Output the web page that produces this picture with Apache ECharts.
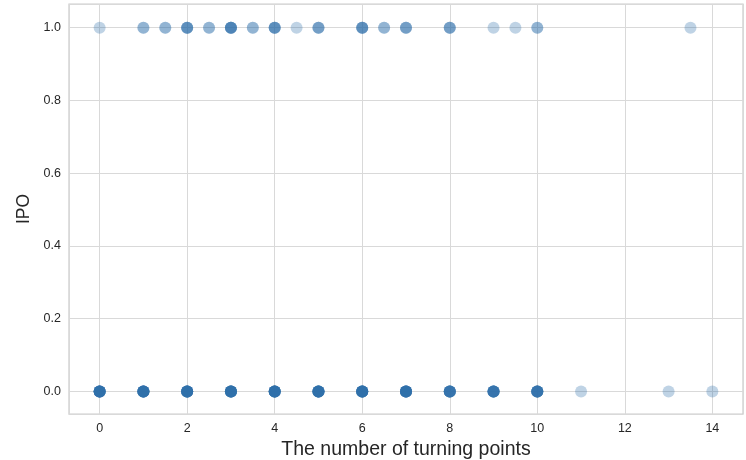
<!DOCTYPE html>
<html>
<head>
<meta charset="utf-8">
<script src="https://cdn.jsdelivr.net/npm/echarts@6/dist/echarts.min.js"></script>
<style>html,body{margin:0;padding:0;background:#fff}#c{width:746px;height:460px}</style>
</head>
<body>
<div id="c"></div>
<script>
// Observations: number of turning points for firms with IPO = 1
const ipo1Turns = [0, 1, 1, 1.5, 1.5, 2, 2, 2, 2, 2.5, 2.5, 3, 3, 3, 3, 3, 3.5, 3.5,
  4, 4, 4, 4, 4.5, 5, 5, 5, 6, 6, 6, 6, 6.5, 6.5, 7, 7, 7, 8, 8, 8, 9, 9.5, 10, 10, 13.5];
// Observations: number of turning points for firms with IPO = 0
const ipo0Turns = [0,0,0,0,0,0,0,0,0,0, 1,1,1,1,1,1,1,1,1,1, 2,2,2,2,2,2,2,2,2,2, 3,3,3,3,3,3,3,3,3,3,
  4,4,4,4,4,4,4,4,4,4, 5,5,5,5,5,5,5,5,5,5, 6,6,6,6,6,6,6,6,6,6, 7,7,7,7,7,7,7,7,7,7,
  8,8,8,8,8,8,8,8, 9,9,9,9,9,9,9,9, 10,10,10,10,10,10,10,10, 11, 13, 14];
const xTitle = 'The number of turning points';
const yTitle = 'IPO';

const points = ipo1Turns.map(x => [x, 1]).concat(ipo0Turns.map(x => [x, 0]));

const chart = echarts.init(document.getElementById('c'), null, {renderer: 'canvas'});
const txt = '#262626';
const font = 'Liberation Sans, Arial, sans-serif';
chart.setOption({
  animation: false,
  backgroundColor: '#fff',
  grid: {left: 69, right: 3, top: 4, bottom: 46, show: true, borderColor: '#cccccc', borderWidth: 1.25,
    backgroundColor: 'transparent', outerBoundsMode: 'none', containLabel: false},
  xAxis: {
    type: 'value', min: -0.7, max: 14.7, splitNumber: 7,
    name: xTitle, nameLocation: 'middle', nameGap: 25,
    nameTextStyle: {color: txt, fontSize: 19.5, fontFamily: font},
    axisLine: {show: false}, axisTick: {show: false},
    axisLabel: {color: txt, fontSize: 12.5, fontFamily: font, margin: 8, showMinLabel: false, showMaxLabel: false,
      formatter: v => String(Math.round(v))},
    splitLine: {show: true, lineStyle: {color: '#d9d9d9', width: 1}}
  },
  yAxis: {
    type: 'value', min: -0.062, max: 1.065, splitNumber: 5,
    name: yTitle, nameLocation: 'middle', nameGap: 35, nameRotate: 90,
    nameTextStyle: {color: txt, fontSize: 17.5, fontFamily: font},
    axisLine: {show: false}, axisTick: {show: false},
    axisLabel: {color: txt, fontSize: 12.5, fontFamily: font, margin: 8, showMinLabel: false, showMaxLabel: false,
      formatter: v => v.toFixed(1)},
    splitLine: {show: true, lineStyle: {color: '#d9d9d9', width: 1}}
  },
  series: [{
    type: 'scatter',
    data: points,
    symbolSize: 12,
    itemStyle: {color: '#2b6caa', opacity: 0.3},
    emphasis: {disabled: true},
    silent: true
  }]
});
</script>
</body>
</html>
